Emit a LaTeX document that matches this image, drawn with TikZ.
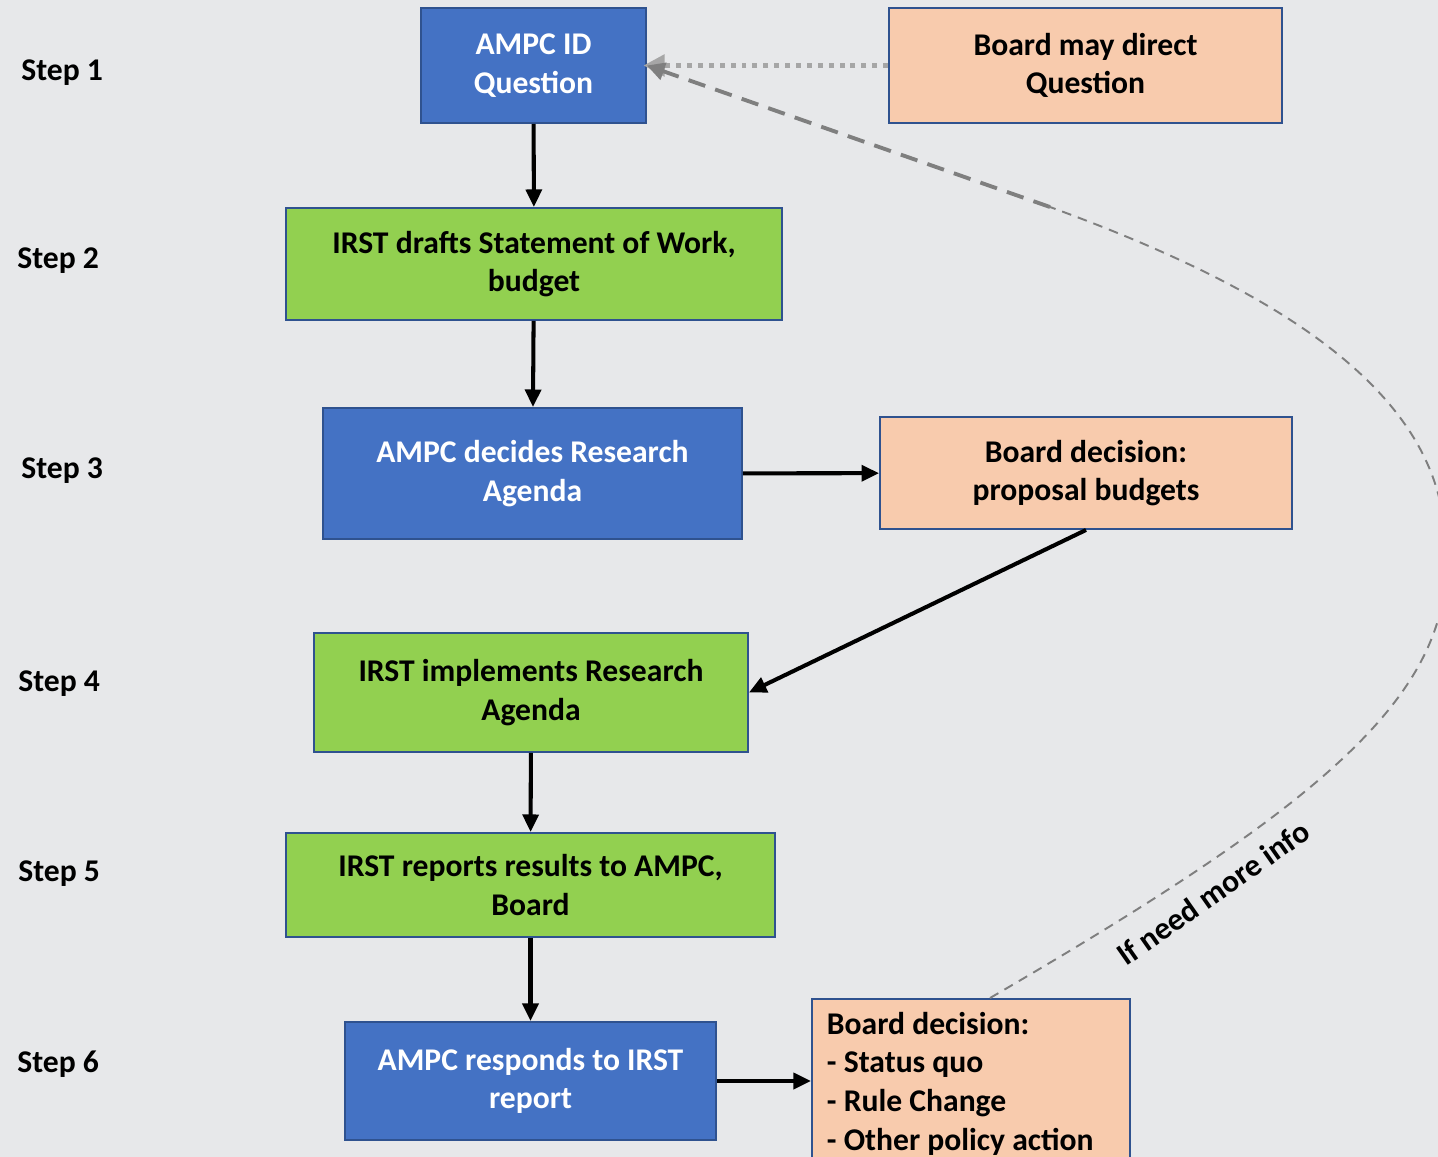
\documentclass[tikz,border=0pt]{standalone}
\usepackage{fontspec}
\setmainfont{Carlito}
\usepackage{tikz}
\usetikzlibrary{arrows.meta}
\usepackage{xcolor}

\definecolor{canvas}{HTML}{E7E8EA}
\definecolor{ampcblue}{HTML}{4472C4}
\definecolor{edgeblue}{HTML}{2F528F}
\definecolor{irstgreen}{HTML}{92D050}
\definecolor{boardpeach}{HTML}{F8CBAD}
\definecolor{loopgray}{HTML}{7F7F7F}

\tikzset{
  box/.style={draw=edgeblue, line width=1.1pt, align=center, font=\fontsize{18}{22}\selectfont\bfseries, inner sep=4pt},
  bluebox/.style={box, fill=ampcblue, text=white},
  greenbox/.style={box, fill=irstgreen},
  peachbox/.style={box, fill=boardpeach},
  steplabel/.style={anchor=west, inner sep=0pt, font=\fontsize{18}{22}\selectfont\bfseries},
  flow/.style={line width=2.3pt, -{Triangle[length=10pt,width=9pt]}}
}

\begin{document}
\begin{tikzpicture}[x=0.02cm, y=-0.02cm]
        \fill[canvas] (0,0) rectangle (1438,1157);
        \useasboundingbox (0,0) rectangle (1438,1157);

        \foreach \n/\x/\y in {1/21/73, 2/17/261, 3/21/471, 4/18/684, 5/18/874, 6/17/1064}
            \node[steplabel] (step\n) at (\x,\y) {Step \n};

        \node[bluebox, minimum width=4.5cm, minimum height=2.3cm] (idq) at (533.5,65.5) {AMPC ID\\Question};
        \node[peachbox, minimum width=7.86cm, minimum height=2.3cm] (direct) at (1085.5,65.5) {Board may direct\\Question};
        \node[greenbox, minimum width=9.92cm, minimum height=2.24cm] (sow) at (534,264) {IRST drafts Statement of Work,\\budget};
        \node[bluebox, minimum width=8.38cm, minimum height=2.62cm] (agenda) at (532.5,473.5) {AMPC decides Research\\Agenda};
        \node[peachbox, minimum width=8.24cm, minimum height=2.24cm] (budgets) at (1086,473) {Board decision:\\proposal budgets};
        \node[greenbox, minimum width=8.68cm, minimum height=2.38cm] (implement) at (531,692.5) {IRST implements Research\\Agenda};
        \node[greenbox, minimum width=9.78cm, minimum height=2.08cm] (results) at (530.5,885) {IRST reports results to AMPC,\\Board};
        \node[bluebox, minimum width=7.42cm, minimum height=2.36cm] (respond) at (530.5,1081) {AMPC responds to IRST\\report};
        \node[peachbox, anchor=north west, align=left, text width=5.76cm, inner xsep=0.3cm, inner ysep=0.26cm] (decision) at (811,998)
            {\spaceskip=0pt\xspaceskip=0pt\relax Board decision:\\- Status quo\\- Rule Change\\- Other policy action\\[2pt]};

        \draw[flow] (idq) -- (sow);
        \draw[flow] (sow) -- (agenda);
        \draw[flow] (agenda) -- (budgets);
        \draw[flow] (budgets.south) -- (implement.east);
        \draw[flow] (implement) -- (results);
        \draw[flow] (results) -- (respond);
        \draw[flow] (respond.east) -- (decision.west |- respond.east);

        % board may send the question straight to the AMPC
        \draw[draw=gray!70, line width=2.8pt, dash pattern=on 2.8pt off 3.4pt, -{Triangle[length=12pt,width=12pt]}, shorten >=-2pt] (direct.west) -- (idq.east);

        % loop back when more information is needed
        \coordinate (bend) at (1050,207);
        \draw[loopgray, line width=1.1pt, dash pattern=on 5.5pt off 4pt] (decision.north west -| 990,0) .. controls (1330,800) and (1460,690) .. (1445,540)
            .. controls (1440,380) and (1250,280) .. (bend);
        \draw[loopgray, line width=2.2pt, dash pattern=on 10pt off 6pt, -{Triangle[length=10pt,width=10pt]}] (bend) -- (idq.east);
        \node[rotate=35, font=\fontsize{18}{22}\selectfont\bfseries] (moreinfo) at (1213,893) {If need more info};
\end{tikzpicture}
\end{document}
